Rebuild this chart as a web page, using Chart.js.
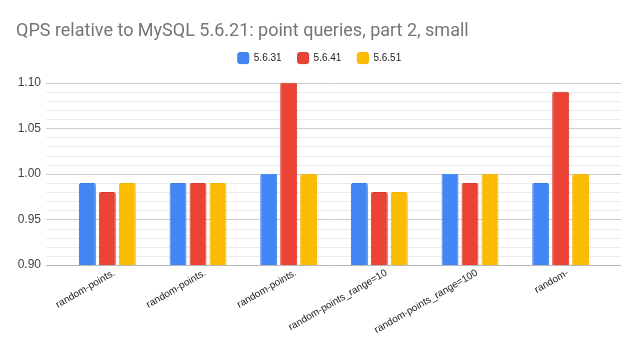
<!DOCTYPE html>
<html>
<head>
<meta charset="utf-8">
<script src="https://cdn.jsdelivr.net/npm/chart.js@4.4.1/dist/chart.umd.min.js"></script>
<style>
  html, body { margin: 0; padding: 0; background: #fff; }
  #wrap { width: 639px; height: 352px; }
</style>
</head>
<body>
<div id="wrap"><canvas id="qpsChart" width="639" height="352"></canvas></div>
<script>
const categories = ['random-points.', 'random-points.', 'random-points.', 'random-points_range=10', 'random-points_range=100', 'random-'];
const seriesNames = ['5.6.31', '5.6.41', '5.6.51'];
const v5631 = [0.99, 0.99, 1.00, 0.99, 1.00, 0.99];
const v5641 = [0.98, 0.99, 1.10, 0.98, 0.99, 1.09];
const v5651 = [0.99, 0.99, 1.00, 0.98, 1.00, 1.00];

const colors = ['#4285F4', '#EA4335', '#FBBC04'];
const borders = ['#3b7be8', '#d93a2c', '#f2b400'];

// google-style gridlines: drawn a bit wider than the plot area
const gridPlugin = {
    id: 'wideGrid',
    beforeDatasetsDraw(chart) {
        const y = chart.scales.y;
        const area = chart.chartArea;
        const ctx = chart.ctx;
        ctx.save();
        y.ticks.forEach(t => {
            const py = Math.round(y.getPixelForValue(t.value)) + 0.5;
            const hundredths = Math.round(t.value * 100);
            if (hundredths === 90) ctx.strokeStyle = '#b7b7b7';
            else if (hundredths % 5 === 0) ctx.strokeStyle = '#cccccc';
            else ctx.strokeStyle = '#ebebeb';
            ctx.lineWidth = 1;
            ctx.beginPath();
            ctx.moveTo(area.left - 16, py);
            ctx.lineTo(area.right + 15, py);
            ctx.stroke();
        });
        ctx.restore();
    }
};

const ds = [v5631, v5641, v5651].map((d, i) => ({
    label: seriesNames[i],
    data: d,
    backgroundColor: colors[i],
    borderColor: borders[i],
    borderWidth: 1,
    borderRadius: 2,
    borderSkipped: 'bottom',
    categoryPercentage: 0.66,
    barPercentage: 0.85
}));

new Chart(document.getElementById('qpsChart'), {
    type: 'bar',
    data: { labels: categories, datasets: ds },
    plugins: [gridPlugin],
    options: {
        responsive: false,
        animation: false,
        layout: { padding: { left: 16, right: 16, top: 0, bottom: 0 } },
        plugins: {
            title: {
                display: true,
                text: 'QPS relative to MySQL 5.6.21: point queries, part 2, small',
                align: 'start',
                color: '#757575',
                font: { family: 'Roboto', size: 18, weight: 'normal' },
                padding: { top: 21, bottom: -6 }
            },
            legend: {
                position: 'top',
                labels: {
                    boxWidth: 11,
                    boxHeight: 11,
                    useBorderRadius: true,
                    borderRadius: 2,
                    color: '#222',
                    font: { family: 'Liberation Sans', size: 10 },
                    padding: 16
                }
            },
            tooltip: { enabled: false }
        },
        scales: {
            x: {
                grid: { display: false },
                border: { display: false },
                ticks: {
                    minRotation: 30,
                    maxRotation: 30,
                    autoSkip: false,
                    color: '#222',
                    font: { family: 'Liberation Sans', size: 10 },
                    padding: -6,
                    labelOffset: 7
                },
                afterFit: s => { s.height = 87; }
            },
            xTop: {
                position: 'top',
                display: true,
                grid: { display: false },
                border: { display: false },
                ticks: { display: false },
                afterFit: s => { s.height = 9; }
            },
            y: {
                min: 0.9,
                max: 1.1,
                grid: { display: false, drawTicks: false },
                border: { display: false },
                ticks: {
                    stepSize: 0.01,
                    autoSkip: false,
                    padding: 21,
                    color: '#444',
                    font: { family: 'Liberation Sans', size: 12 },
                    callback: v => (Math.round(v * 100) % 5 === 0 ? v.toFixed(2) : '')
                },
                afterFit: s => { s.width = 46; }
            },
            y2: {
                position: 'right',
                display: true,
                grid: { display: false },
                border: { display: false },
                ticks: { display: false },
                afterFit: s => { s.width = 17; }
            }
        }
    }
});
</script>
</body>
</html>
